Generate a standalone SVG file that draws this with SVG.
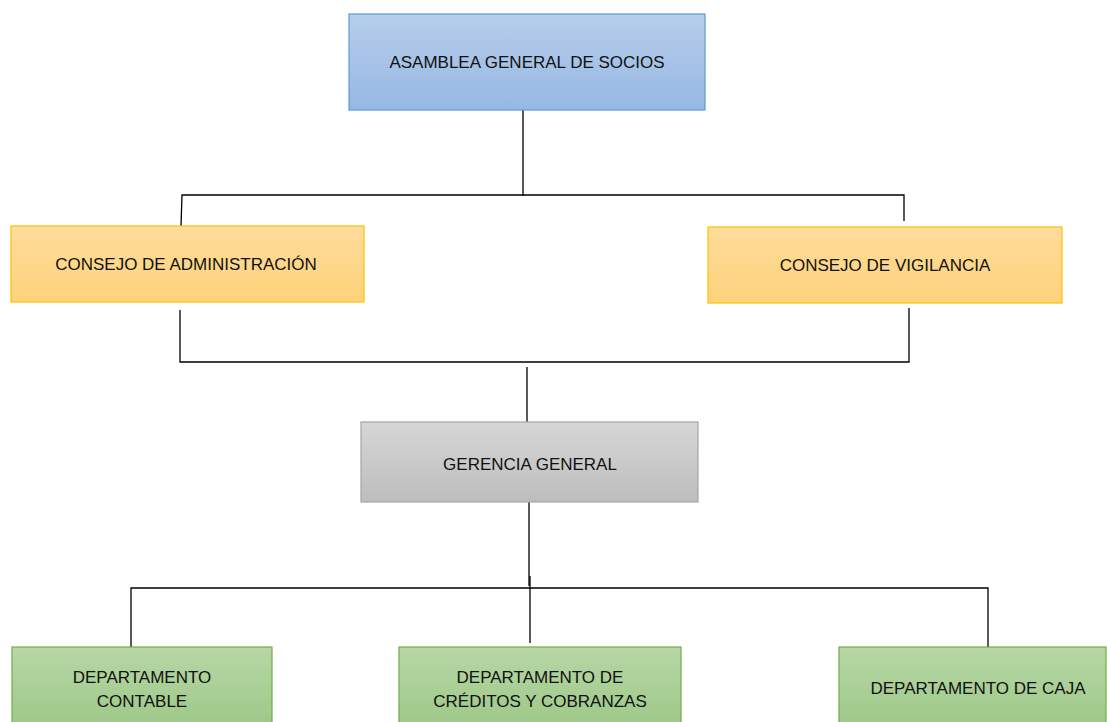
<svg xmlns="http://www.w3.org/2000/svg" width="1107" height="722" viewBox="0 0 1107 722">
<defs>
<linearGradient id="gBlue" x1="0" y1="0" x2="0" y2="1"><stop offset="0" stop-color="#b7cdea"/><stop offset="1" stop-color="#96b8e3"/></linearGradient>
<linearGradient id="gOrange" x1="0" y1="0" x2="0" y2="1"><stop offset="0" stop-color="#fedc9c"/><stop offset="1" stop-color="#fdd27a"/></linearGradient>
<linearGradient id="gGray" x1="0" y1="0" x2="0" y2="1"><stop offset="0" stop-color="#d6d6d6"/><stop offset="1" stop-color="#bdbdbd"/></linearGradient>
<linearGradient id="gGreen" x1="0" y1="0" x2="0" y2="1"><stop offset="0" stop-color="#b7d7a6"/><stop offset="1" stop-color="#9dc887"/></linearGradient>
</defs>
<style>
.t{font-family:"Liberation Sans",Arial,sans-serif;font-size:17px;fill:#111;text-anchor:middle}
.c{fill:none;stroke:#000;stroke-width:1.3}
.blue{fill:url(#gBlue);stroke:#5b9bd5;stroke-width:1.2}
.orange{fill:url(#gOrange);stroke:#ffc000;stroke-width:1.2}
.gray{fill:url(#gGray);stroke:#a5a5a5;stroke-width:1.2}
.green{fill:url(#gGreen);stroke:#70ad47;stroke-width:1.2}
</style>
<rect width="1107" height="722" fill="#fff"/>
<g id="connectors">
<path class="c" d="M523 110 V196"/>
<path class="c" d="M181 226 L182 195 H904 V221"/>
<path class="c" d="M180 310 V362 H909 V308"/>
<path class="c" d="M527 367 V422"/>
<path class="c" d="M529 502 V586"/>
<path class="c" d="M131 647 V588 H988 V647"/>
<path class="c" d="M530 576 V643"/>
</g>
<g id="asamblea">
<rect class="blue" x="349" y="14" width="356" height="96"/>
<text class="t" x="527" y="68">ASAMBLEA GENERAL DE SOCIOS</text>
</g>
<g id="consejo-administracion">
<rect class="orange" x="11" y="226" width="353" height="76"/>
<text class="t" x="186" y="270">CONSEJO DE ADMINISTRACIÓN</text>
</g>
<g id="consejo-vigilancia">
<rect class="orange" x="708" y="227" width="354" height="76"/>
<text class="t" x="885" y="271">CONSEJO DE VIGILANCIA</text>
</g>
<g id="gerencia">
<rect class="gray" x="361" y="422" width="337" height="80"/>
<text class="t" x="530" y="470">GERENCIA GENERAL</text>
</g>
<g id="dep-contable">
<rect class="green" x="12" y="647" width="260" height="80"/>
<text class="t" x="142" y="683">DEPARTAMENTO</text>
<text class="t" x="142" y="707">CONTABLE</text>
</g>
<g id="dep-creditos">
<rect class="green" x="399" y="647" width="282" height="80"/>
<text class="t" x="540" y="683">DEPARTAMENTO DE</text>
<text class="t" x="540" y="707">CRÉDITOS Y COBRANZAS</text>
</g>
<g id="dep-caja">
<rect class="green" x="839" y="647" width="267" height="80"/>
<text class="t" x="978" y="694">DEPARTAMENTO DE CAJA</text>
</g>
</svg>
